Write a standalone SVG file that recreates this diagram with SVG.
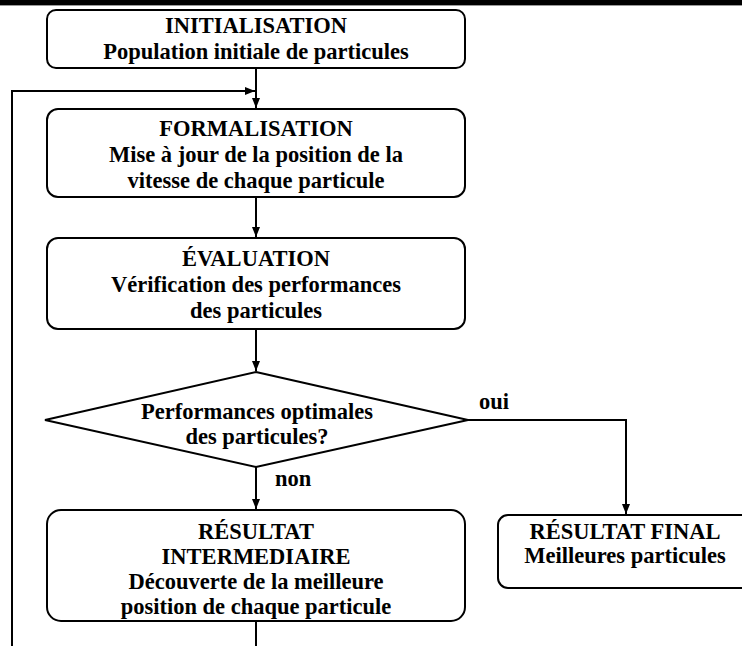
<svg xmlns="http://www.w3.org/2000/svg" width="742" height="646" viewBox="0 0 742 646">
<defs>
<marker id="arr" markerWidth="10" markerHeight="10" refX="10" refY="5" orient="auto" markerUnits="userSpaceOnUse">
<path d="M0,1 L10,5 L0,9 Z" fill="#000"/>
</marker>
</defs>
<style>
.box{fill:#fff;stroke:#000;stroke-width:2}
.t{font-family:"Liberation Serif","Times New Roman",serif;font-weight:bold;font-size:22.5px;fill:#000;text-anchor:middle}
.lbl{font-family:"Liberation Serif","Times New Roman",serif;font-weight:bold;font-size:22.5px;fill:#000}
.c{fill:none;stroke:#000;stroke-width:2}
</style>
<rect x="0" y="0" width="742" height="646" fill="#fff"/>
<rect x="0" y="0" width="742" height="5" fill="#000"/>
<line x1="0" y1="5.5" x2="742" y2="5.5" stroke="#999" stroke-width="1"/>
<g id="connectors">
<path class="c" d="M256,68 V108" marker-end="url(#arr)"/>
<path class="c" d="M12,646 V91 H255" marker-end="url(#arr)"/>
<path class="c" d="M256,197 V237" marker-end="url(#arr)"/>
<path class="c" d="M256,329 V371" marker-end="url(#arr)"/>
<path class="c" d="M468,420 H626 V514" marker-end="url(#arr)"/>
<path class="c" d="M256,467 V509" marker-end="url(#arr)"/>
<path class="c" d="M256,621 V646"/>
<text class="lbl" x="479" y="409">oui</text>
<text class="lbl" x="275" y="486">non</text>
</g>
<g id="initialisation">
<rect class="box" x="47" y="10" width="418" height="58" rx="9"/>
<text class="t" x="256" y="33">INITIALISATION</text>
<text class="t" x="256" y="59">Population initiale de particules</text>
</g>
<g id="formalisation">
<rect class="box" x="47" y="109" width="418" height="88" rx="11"/>
<text class="t" x="256" y="136">FORMALISATION</text>
<text class="t" x="256" y="162">Mise à jour de la position de la</text>
<text class="t" x="256" y="188">vitesse de chaque particule</text>
</g>
<g id="evaluation">
<rect class="box" x="47" y="238" width="418" height="91" rx="11"/>
<text class="t" x="256" y="266">ÉVALUATION</text>
<text class="t" x="256" y="292">Vérification des performances</text>
<text class="t" x="256" y="318">des particules</text>
</g>
<g id="decision">
<polygon class="box" points="256,372 468,420 256,467 45,420"/>
<text class="t" x="257" y="419">Performances optimales</text>
<text class="t" x="257" y="444">des particules?</text>
</g>
<g id="intermediaire">
<rect class="box" x="47" y="510" width="418" height="111" rx="14"/>
<text class="t" x="256" y="539">RÉSULTAT</text>
<text class="t" x="256" y="564">INTERMEDIAIRE</text>
<text class="t" x="256" y="589">Découverte de la meilleure</text>
<text class="t" x="256" y="614">position de chaque particule</text>
</g>
<g id="final">
<rect class="box" x="498" y="515" width="270" height="73" rx="10"/>
<text class="t" x="625" y="539">RÉSULTAT FINAL</text>
<text class="t" x="625" y="563">Meilleures particules</text>
</g>
</svg>
